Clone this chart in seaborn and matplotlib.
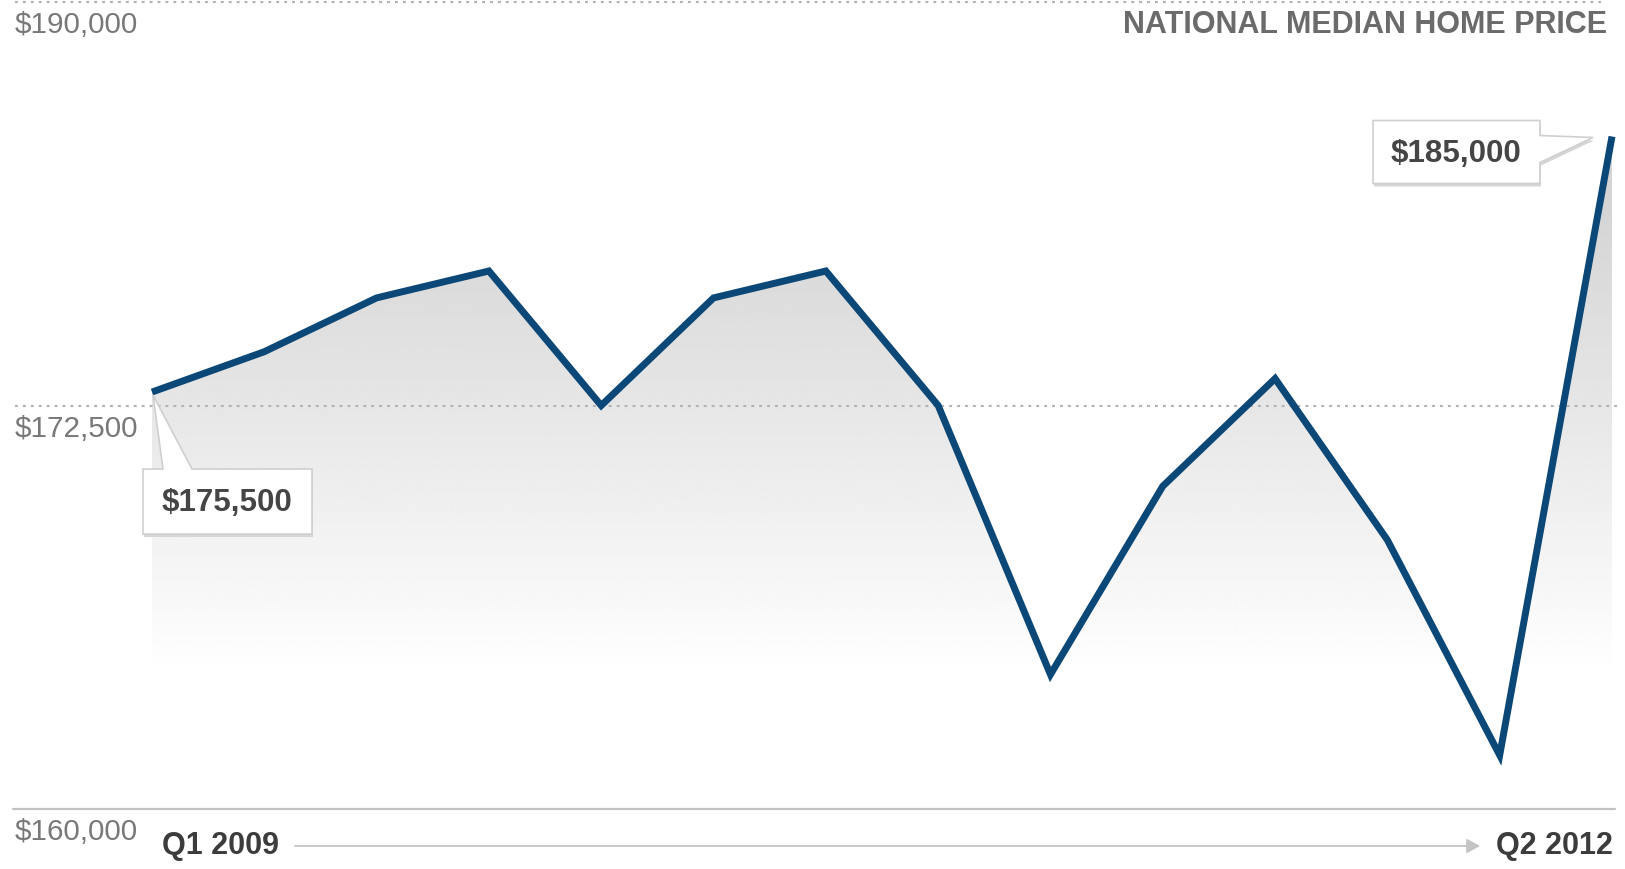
import numpy as np
import pandas as pd
import matplotlib
matplotlib.use("Agg")
import matplotlib.pyplot as plt
import seaborn as sns
from matplotlib.patches import Polygon
from matplotlib.transforms import Affine2D, ScaledTranslation

# Quarterly national median home price
quarters = ["Q1 2009", "Q2 2009", "Q3 2009", "Q4 2009",
            "Q1 2010", "Q2 2010", "Q3 2010", "Q4 2010",
            "Q1 2011", "Q2 2011", "Q3 2011", "Q4 2011",
            "Q1 2012", "Q2 2012"]
prices = [175500, 177000, 179000, 180000,
          175000, 179000, 180000, 175000,
          165000, 172000, 176000, 170000,
          162000, 185000]

y_ticks = [160000, 175000, 190000]
y_tick_labels = ["$160,000", "$172,500", "$190,000"]
title = "NATIONAL MEDIAN HOME PRICE"
callout_points = [0, 13]

sns.set_style("white")
plt.rcParams["font.family"] = ["Liberation Sans", "DejaVu Sans"]

W, H, DPI = 1625, 870, 100
fig = plt.figure(figsize=(W / DPI, H / DPI), dpi=DPI)
fig.patch.set_facecolor("white")
ax = fig.add_axes([152 / W, 1 - 810 / H, (1612 - 152) / W, (810 - 3) / H])
ax.axis("off")

df = pd.DataFrame({"idx": np.arange(len(quarters)), "quarter": quarters,
                   "price": prices})
n = len(quarters)
ymin, ymax = y_ticks[0], y_ticks[-1]

# Gray gradient under the line, fading to white toward the bottom
yy = np.linspace(ymin, ymax, 800)
row_px = 3 + (ymax - yy) / (ymax - ymin) * 807
gray = np.clip(0.855 + (row_px - 270) * 0.000354, 0.835, 1.0)
img = np.repeat(gray[:, None], 2, axis=1)
im = ax.imshow(img, extent=[0, n - 1, ymin, ymax], origin="lower",
               cmap="gray", vmin=0, vmax=1, aspect="auto", zorder=1,
               interpolation="bilinear")
area = Polygon([(0, ymin)] + list(zip(df["idx"], df["price"])) + [(n - 1, ymin)],
               closed=True, facecolor="none", edgecolor="none",
               transform=ax.transData)
ax.add_patch(area)
im.set_clip_path(area)

# Reference lines
x_left = (15 - 152) / 1460
ax.axhline(ymax, xmin=x_left, xmax=(1601 - 152) / 1460, color="#b3b3b3",
           lw=1.5, ls=(0, (1.4, 2.4)), clip_on=False, zorder=2)
ax.axhline(y_ticks[1], xmin=x_left, xmax=(1617 - 152) / 1460, color="#b3b3b3",
           lw=1.5, ls=(0, (1.4, 2.4)), clip_on=False, zorder=2)
ax.axhline(ymin, xmin=(13 - 152) / 1460, xmax=(1615 - 152) / 1460,
           color="#c2c2c2", lw=1.6, clip_on=False, zorder=2)

# Price line
sns.lineplot(data=df, x="idx", y="price", ax=ax, color="#0b4777",
             linewidth=5, zorder=3, legend=False)
line = ax.lines[-1]
line.set_solid_joinstyle("miter")
line.set_solid_capstyle("butt")
line.set_clip_on(False)

ax.set_xlim(0, n - 1)
ax.set_ylim(ymin, ymax)

# Y value labels at the left edge
for val, lab in zip(y_ticks, y_tick_labels):
    ax.annotate(lab, xy=(15 / W, val), xycoords=("figure fraction", "data"),
                xytext=(0, -22), textcoords="offset pixels",
                ha="left", va="center", fontsize=21.3, color="#787878")

fig.text(1607 / W, 1 - 25 / H, title, ha="right", va="center",
         fontsize=22, fontweight="bold", color="#6b6b6b")

# Time axis: start label, arrow, end label
fig.text(162 / W, 1 - 846 / H, quarters[0], ha="left", va="center",
         fontsize=22, fontweight="bold", color="#3c3c3c")
fig.text(1613 / W, 1 - 846 / H, quarters[-1], ha="right", va="center",
         fontsize=22, fontweight="bold", color="#3c3c3c")
ax.annotate("", xy=(1480 / W, 1 - 847 / H), xytext=(295 / W, 1 - 847 / H),
            xycoords="figure fraction", textcoords="figure fraction",
            arrowprops=dict(arrowstyle="-|>,head_length=0.4,head_width=0.22",
                            color="#c4c4c4", lw=1.3, mutation_scale=20,
                            shrinkA=0, shrinkB=0))


def callout(i, verts, text_offset):
    """Speech-bubble label anchored at point i; verts are pixel offsets."""
    tr = Affine2D() + ScaledTranslation(df["idx"][i], df["price"][i], ax.transData)
    shadow = Polygon([(x + 1, y - 3) for x, y in verts], closed=True,
                     facecolor="#d6d6d6", edgecolor="none", transform=tr,
                     zorder=4, clip_on=False)
    bubble = Polygon(verts, closed=True, facecolor="white",
                     edgecolor="#cfcfcf", lw=1.2, transform=tr, zorder=5,
                     clip_on=False)
    ax.add_patch(shadow)
    ax.add_patch(bubble)
    ax.annotate(f"${prices[i]:,}", xy=(df["idx"][i], df["price"][i]),
                xytext=text_offset, textcoords="offset pixels",
                ha="center", va="center", fontsize=22.5, fontweight="bold",
                color="#454545", zorder=6, annotation_clip=False)


callout(callout_points[0],
        [(-9, -77), (11, -77), (1, -3), (40, -77), (160, -77),
         (160, -142), (-9, -142)],
        (75, -110))
callout(callout_points[1],
        [(-239, 16), (-72, 16), (-72, 1), (-19, -1), (-72, -26),
         (-72, -47), (-239, -47)],
        (-156, -16))

fig.savefig("out.png", dpi=DPI, facecolor="white")
